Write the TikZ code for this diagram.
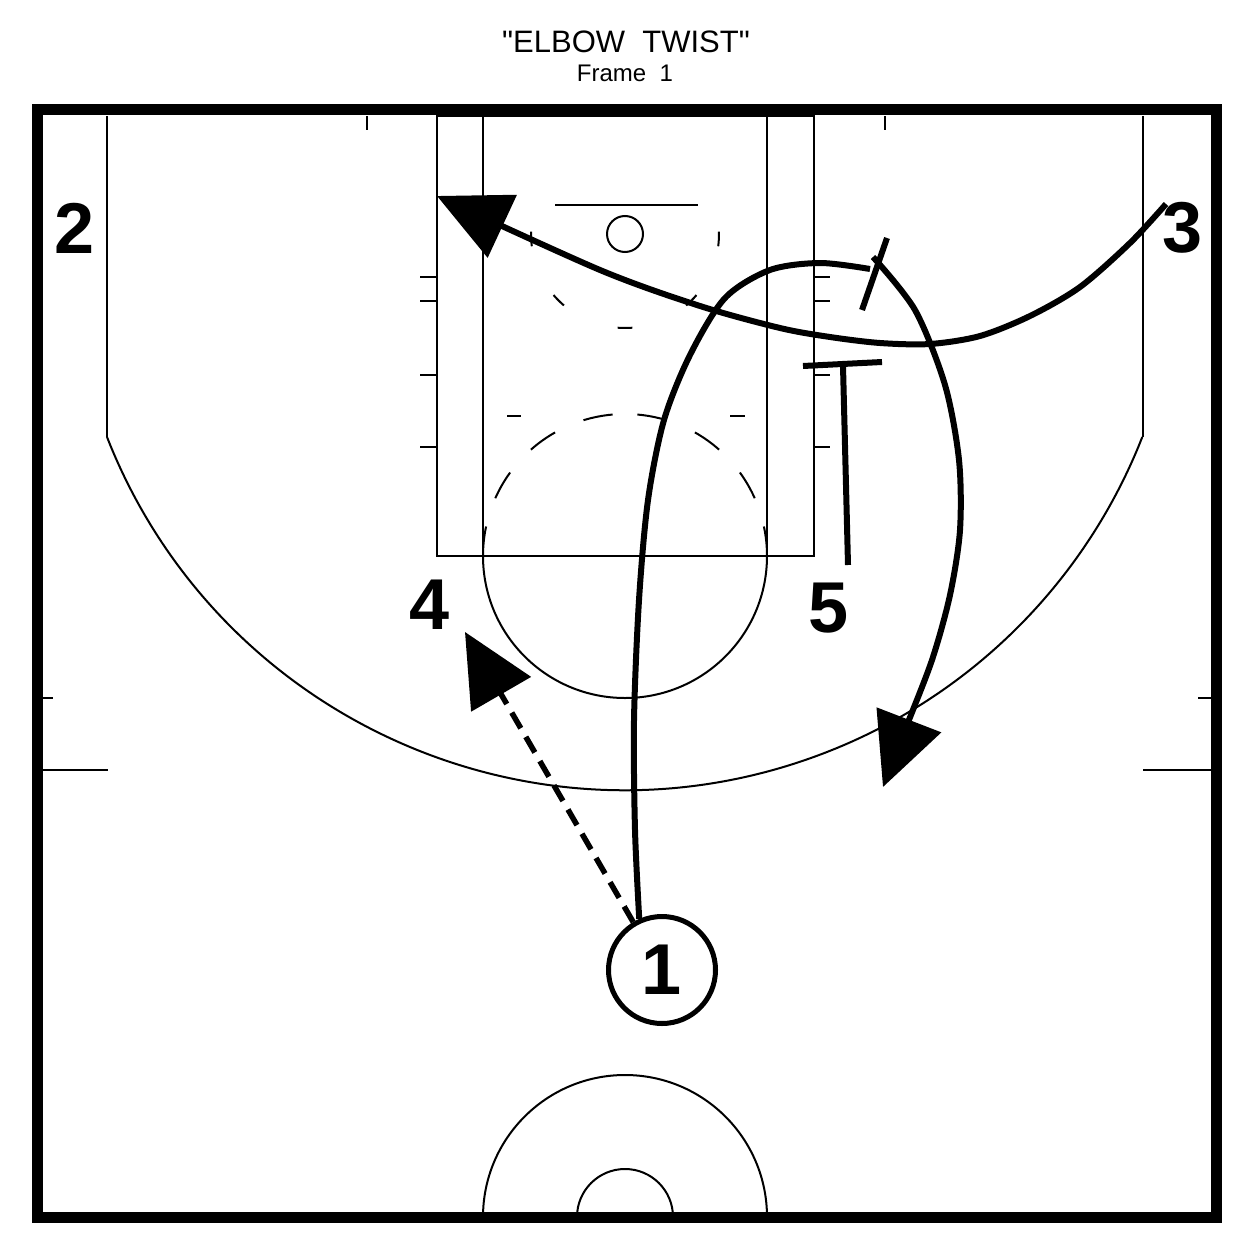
\documentclass[tikz,border=0pt]{standalone}
\usepackage{fontspec}
\setmainfont{Liberation Sans}[Ligatures=TeXOff]
\usetikzlibrary{arrows.meta}
\begin{document}
\begin{tikzpicture}[x=1pt,y=-1pt,
  court/.style={line width=2pt,black},
  border/.style={line width=11pt,black},
  move/.style={line width=6pt,black,line cap=butt},
  passline/.style={line width=5.5pt,black,dash pattern=on 18pt off 10pt},
  bigtip/.style={-{Triangle[length=72pt,width=68pt]}},
  player/.style={font=\fontsize{72}{72}\selectfont\bfseries,inner sep=0pt},
  ttl/.style={font=\fontsize{31}{31}\selectfont},
  sub/.style={font=\fontsize{24}{24}\selectfont}]
\useasboundingbox (0,0) rectangle (1252,1252);
\fill[white] (0,0) rectangle (1252,1252);
% title
\node[ttl] (title) at (626,42) {"ELBOW\ \ TWIST"};
\node[sub] (frame) at (625,73) {Frame\ \ 1};
% court
\draw[court] (107,116) -- (107,437);
\draw[court] (1143,116) -- (1143,437);
\draw[court] (107,437) arc[start angle=158.6, end angle=21.4, radius=556];
\draw[court] (437,116) rectangle (814,556);
\draw[court] (483,116) -- (483,556);
\draw[court] (767,116) -- (767,556);
\foreach \y in {277,301,375,447}{
  \draw[court] (420,\y) -- (437,\y);
  \draw[court] (814,\y) -- (830,\y);
}
\draw[court] (507,416) -- (521,416);
\draw[court] (730,416) -- (745,416);
% top ticks
\draw[court] (367,116) -- (367,130);
\draw[court] (885,116) -- (885,130);
% backboard and rim
\draw[line width=2.5pt] (555,205) -- (698,205);
\draw[court] (625,234) circle (18);
% restricted dashes
\foreach \a in {3,45,90,135,177}{
  \draw[court] ({625+94*cos(\a-4.5)},{234+94*sin(\a-4.5)}) arc[start angle=\a-4.5, end angle=\a+4.5, radius=94];
}
% free throw circle
\draw[court] (767,556) arc[start angle=0, end angle=180, radius=142];
\foreach \a in {101,125.5,150,79,54.5,30}{
  \draw[court] ({625+142*cos(-\a+6)},{556+142*sin(-\a+6)}) arc[start angle=-\a+6, end angle=-\a-6, radius=142];
}
\draw[court] ({625+142*cos(-168)},{556+142*sin(-168)}) arc[start angle=-168, end angle=-180, radius=142];
\draw[court] ({625+142*cos(-12)},{556+142*sin(-12)}) arc[start angle=-12, end angle=0, radius=142];
% half court
\draw[court] (42,770) -- (108,770);
\draw[court] (1143,770) -- (1211,770);
\draw[court] (42,698) -- (53,698);
\draw[court] (1198,698) -- (1211,698);
% center circles
\draw[court] (483,1217) arc[start angle=180, end angle=360, radius=142];
\draw[court] (577,1217) arc[start angle=180, end angle=360, radius=48];
% border
\draw[border] (37,110) rectangle (1216,1217);
% players
\node[player] (p2) at (75,228) {2};
\node[player] (p3) at (1183,228) {3};
\node[player] (p4) at (430,605) {4};
\node[player] (p5) at (829,608) {5};
\node[player,circle,draw,line width=5pt,minimum size=107pt] (p1) at (662,970) {1};
% coordinates
\coordinate (t3) at (437,196);
\coordinate (s1) at (870,269);
\coordinate (b1a) at (862,310);
\coordinate (b1b) at (887,238);
\coordinate (r1) at (873,257);
\coordinate (t1) at (883,787);
\coordinate (s5a) at (848,565);
\coordinate (s5) at (843,366);
\coordinate (b5a) at (803,366);
\coordinate (b5b) at (882,362);
\coordinate (t4) at (465,632);
% player 3 cut
\draw[move,bigtip] plot[smooth] coordinates {(1166,204) (1130,243) (1080,287) (1030,316) (980,336) (930,344) (880,343) (830,337) (780,328) (700,306) (600,270) (t3)};
% player 1 cut and screen
\draw[move] plot[smooth] coordinates {(p1.114) (635,830) (634,720) (639,600) (648,500) (664,420) (690,355) (725,298) (770,270) (820,263) (s1)};
\draw[move] (b1a) -- (b1b);
\draw[move,bigtip] plot[smooth] coordinates {(r1) (915,310) (945,385) (959,460) (960,530) (950,595) (932,660) (905,730) (t1)};
% player 5 screen
\draw[move] (s5a) -- (s5);
\draw[move] (b5a) -- (b5b);
% pass 1 to 4
\draw[passline,bigtip] (p1.121) -- (t4);
\end{tikzpicture}
\end{document}
